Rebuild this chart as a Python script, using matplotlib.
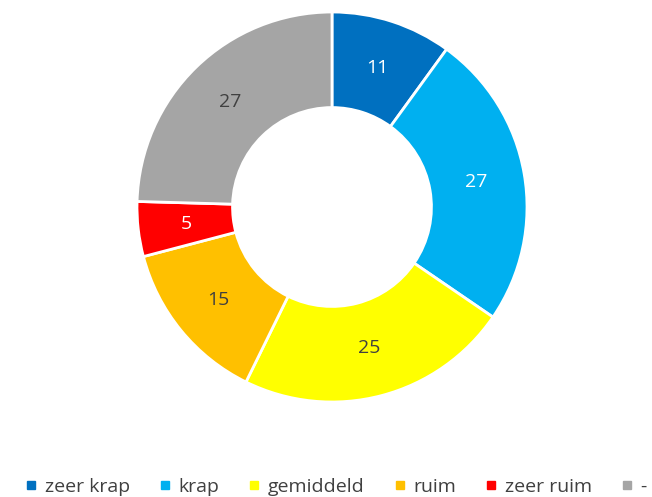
import matplotlib.pyplot as plt
from matplotlib.lines import Line2D

# data
categories = ['zeer krap', 'krap', 'gemiddeld', 'ruim', 'zeer ruim', '-']
values     = [11, 27, 25, 15, 5, 27]
colors     = ['#0070C0', '#00B0F0', '#FFFF00', '#FFC000', '#FF0000', '#A5A5A5']
label_cols = ['white', 'white', '#404040', '#404040', 'white', '#404040']

plt.rcParams['font.family'] = ['Open Sans', 'DejaVu Sans']

W, H = 652, 497
fig = plt.figure(figsize=(W / 100, H / 100), dpi=100)

# pie centre at (332, 207) px, outer radius 195 px
cx, cy, r = 332, 207, 195
ax = fig.add_axes([(cx - r) / W, (H - cy - r) / H, 2 * r / W, 2 * r / H])

wedges, texts = ax.pie(values,
                       colors=colors,
                       startangle=90,
                       counterclock=False,
                       radius=1.0,
                       labels=[str(v) for v in values],
                       labeldistance=0.75,
                       wedgeprops=dict(width=0.49, edgecolor='white', linewidth=2),
                       textprops=dict(fontsize=14, ha='center', va='center'),
                       )
for t, c in zip(texts, label_cols):
    t.set_color(c)

ax.set_xlim(-1.0, 1.0)
ax.set_ylim(-1.0, 1.0)
ax.set_aspect('equal')
ax.axis('off')

handles = [Line2D([], [], marker='s', linestyle='none', markersize=6,
                  markerfacecolor=c, markeredgecolor=c) for c in colors]
fig.legend(handles, categories,
           loc='center',
           bbox_to_anchor=(0.5 + 10 / W, 1 - 487 / H),
           ncols=6,
           frameon=False,
           fontsize=14,
           handlelength=0.6,
           handletextpad=0.4,
           columnspacing=1.5,
           labelcolor='#404040',
           )

fig.savefig('out.png', dpi=100)
